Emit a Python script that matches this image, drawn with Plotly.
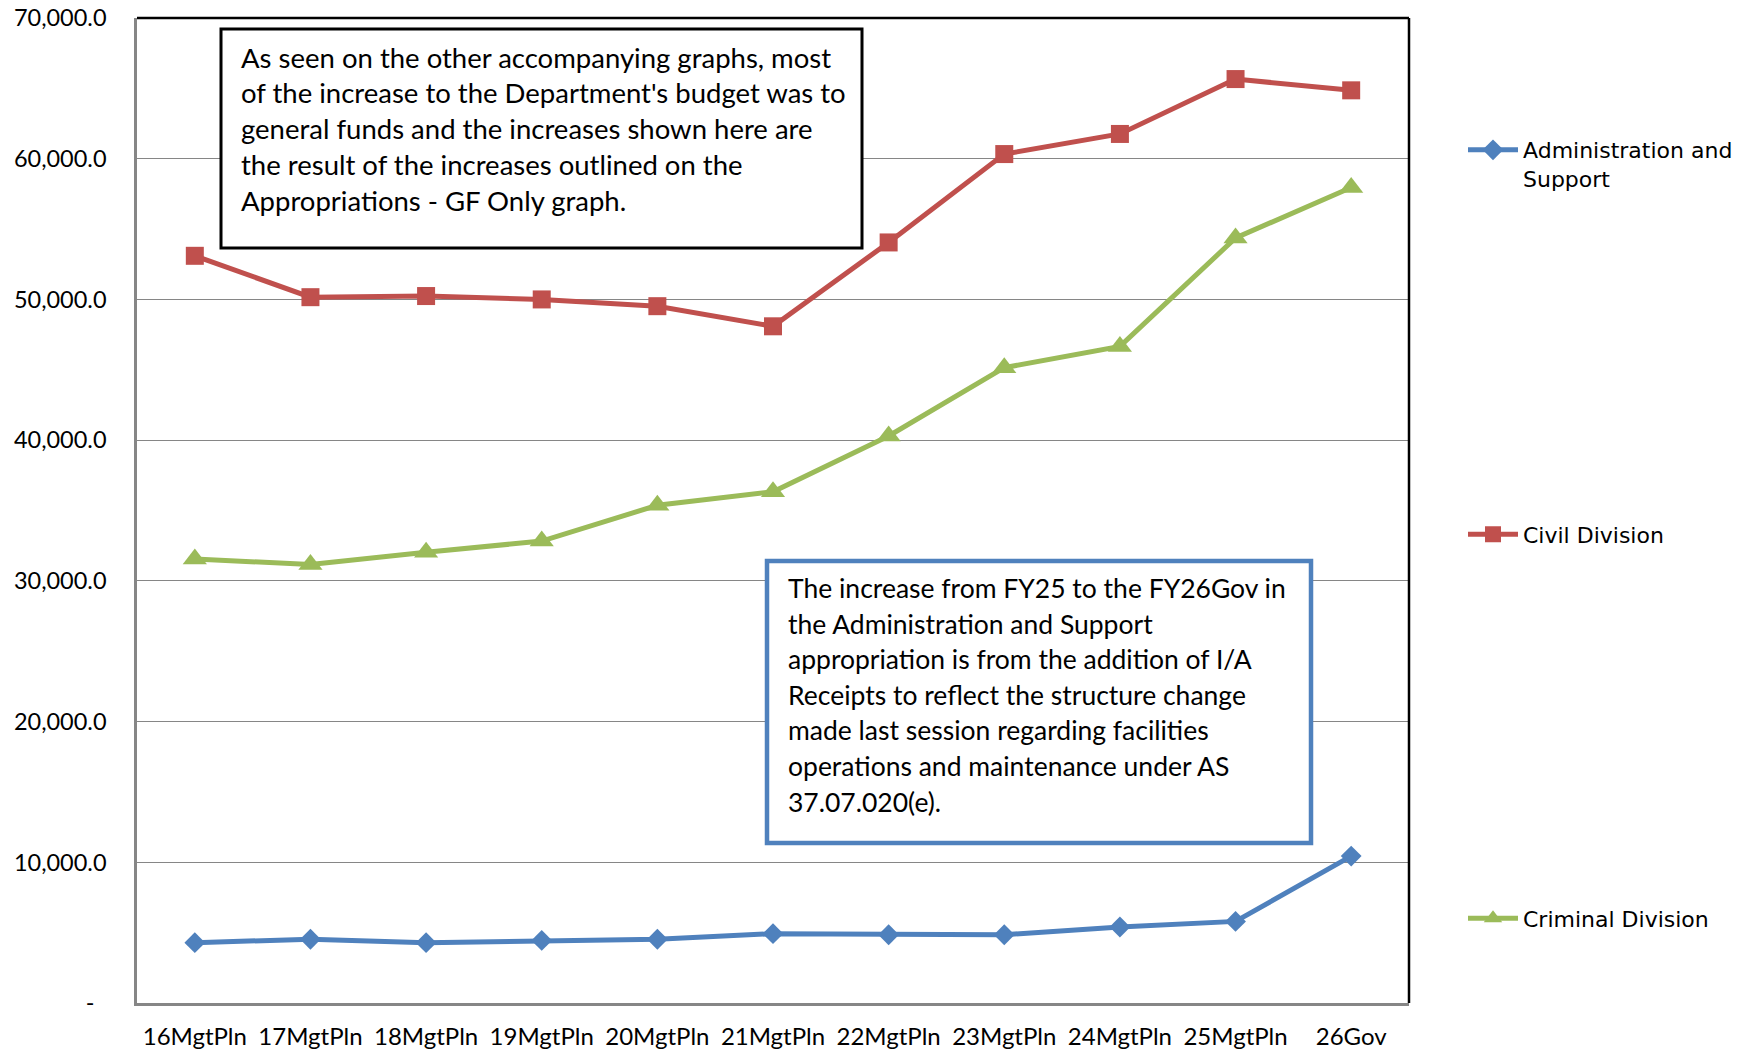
import plotly.graph_objects as go

categories = ["16MgtPln", "17MgtPln", "18MgtPln", "19MgtPln", "20MgtPln", "21MgtPln",
              "22MgtPln", "23MgtPln", "24MgtPln", "25MgtPln", "26Gov"]
admin_support = [4290, 4530, 4290, 4450, 4530, 4930, 4850, 4850, 5400, 5800, 10440]
civil_division = [53100, 50160, 50240, 50000, 49520, 48090, 54050, 60330, 61760, 65660, 64860]
criminal_division = [31560, 31160, 32030, 32830, 35370, 36330, 40300, 45150, 46660, 54370, 57950]

y_tickvals = [0, 10000, 20000, 30000, 40000, 50000, 60000, 70000]
y_ticktext = ["-\u00a0\u00a0", "10,000.0", "20,000.0", "30,000.0", "40,000.0", "50,000.0", "60,000.0", "70,000.0"]

note1_lines = [
    "As seen on the other accompanying graphs, most",
    "of the increase to the Department's budget was to",
    "general funds and the increases shown here are",
    "the result of the increases outlined on the",
    "Appropriations - GF Only graph.",
]
note2_lines = [
    "The increase from FY25 to the FY26Gov in",
    "the Administration and Support",
    "appropriation is from the addition of I/A",
    "Receipts to reflect the structure change",
    "made last session regarding facilities",
    "operations and maintenance under AS",
    "37.07.020(e).",
]

W, H = 1752, 1053
L, R, T, B = 137, 1409, 18, 1003


def px(x):
    return (x - L) / (R - L)


def py(y):
    return (B - y) / (B - T)


BLUE, RED, GREEN = "#4F81BD", "#C0504D", "#9BBB59"
FONT = "Lato"

fig = go.Figure()
fig.add_trace(go.Scatter(x=categories, y=admin_support, name="Administration and<br>Support",
                         mode="lines+markers", line=dict(color=BLUE, width=5),
                         marker=dict(symbol="diamond", size=16, color=BLUE), legend="legend"))
fig.add_trace(go.Scatter(x=categories, y=civil_division, name="Civil Division",
                         mode="lines+markers", line=dict(color=RED, width=5),
                         marker=dict(symbol="square", size=18, color=RED), legend="legend2"))
fig.add_trace(go.Scatter(x=categories, y=criminal_division, name="Criminal Division",
                         mode="lines+markers", line=dict(color=GREEN, width=5),
                         marker=dict(symbol="triangle-up", size=21, color=GREEN), legend="legend3"))

legend_common = dict(font=dict(family="DejaVu Sans", size=22, color="#000000"),
                     bgcolor="rgba(0,0,0,0)", itemwidth=50, xanchor="left", valign="top",
                     itemclick=False, itemdoubleclick=False)
fig.update_layout(
    legend=dict(x=px(1463), y=py(151 - 22), yanchor="top", **legend_common),
    legend2=dict(x=px(1463), y=py(534 - 20.5), yanchor="top", **legend_common),
    legend3=dict(x=px(1463), y=py(918 - 20.5), yanchor="top", **legend_common),
)

annotations = []
for i, line in enumerate(note1_lines):
    annotations.append(dict(text=line, xref="paper", yref="paper", x=px(239), y=py(57 + i * 35.75),
                            xanchor="left", yanchor="middle", showarrow=False,
                            font=dict(family=FONT, size=27.5, color="#000000")))
for i, line in enumerate(note2_lines):
    annotations.append(dict(text=line, xref="paper", yref="paper", x=px(786), y=py(588 + i * 35.6),
                            xanchor="left", yanchor="middle", showarrow=False,
                            font=dict(family=FONT, size=26.5, color="#000000")))

shapes = [
    dict(type="rect", xref="paper", yref="paper", x0=px(221), x1=px(862), y0=py(29), y1=py(248),
         line=dict(color="#000000", width=3), fillcolor="white", layer="above"),
    dict(type="rect", xref="paper", yref="paper", x0=px(767), x1=px(1311), y0=py(561), y1=py(843),
         line=dict(color=BLUE, width=4.5), fillcolor="white", layer="above"),
    dict(type="line", xref="paper", yref="paper", x0=0, x1=1, y0=1, y1=1,
         line=dict(color="#000000", width=2.5)),
    dict(type="line", xref="paper", yref="paper", x0=1, x1=1, y0=0, y1=1,
         line=dict(color="#000000", width=2.5)),
]

fig.update_layout(
    width=W, height=H,
    margin=dict(l=L, r=W - R, t=T, b=H - B, autoexpand=False),
    paper_bgcolor="white", plot_bgcolor="white",
    showlegend=True,
    annotations=annotations,
    shapes=shapes,
    xaxis=dict(type="category", range=[-0.5, 10.5], showgrid=False, zeroline=False,
               showline=True, linecolor="#868686", linewidth=2.5, ticks="",
               ticklabelstandoff=10, automargin=False,
               tickfont=dict(family=FONT, size=24, color="#000000"), fixedrange=True),
    yaxis=dict(range=[0, 70000], tickvals=y_tickvals, ticktext=y_ticktext,
               showgrid=True, gridcolor="#868686", gridwidth=1.2, zeroline=False,
               showline=True, linecolor="#868686", linewidth=2.5, ticks="",
               ticklabelstandoff=23, automargin=False,
               tickfont=dict(family=FONT, size=23.5, color="#000000"), fixedrange=True),
)

fig.write_html("out.html", config={"displayModeBar": False},
               post_script="document.body.style.margin='0';")
